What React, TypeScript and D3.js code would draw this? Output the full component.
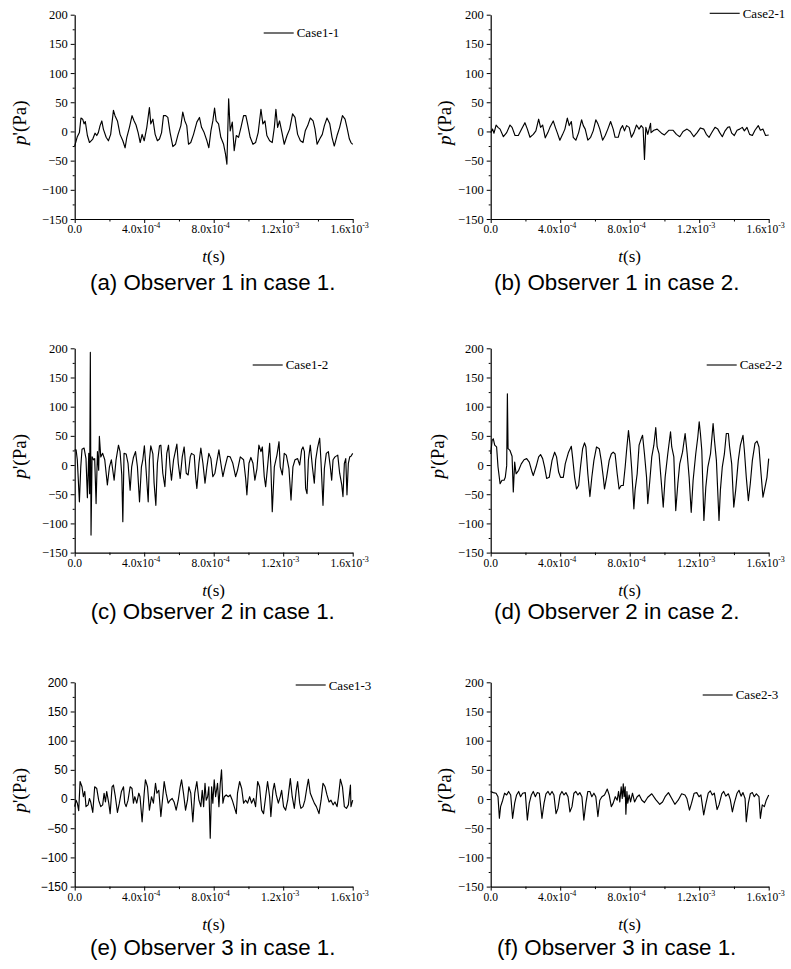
import React, { useEffect, useRef } from "react";
import * as d3 from "d3";

type Pt = [number, number]; // [t in 1e-4 s, p' in Pa]

const xTicks = [0, 4e-4, 8e-4, 1.2e-3, 1.6e-3];
const xMinor = [2e-4, 6e-4, 1e-3, 1.4e-3];
const xTickBase = ["0.0", "4.0x10", "8.0x10", "1.2x10", "1.6x10"];
const xTickExp = ["", "-4", "-4", "-3", "-3"];
const yTicks = [-150, -100, -50, 0, 50, 100, 150, 200];
const yMinor = [-125, -75, -25, 25, 75, 125, 175];

const case1_1: Pt[] = [
  [0, -25], [0.15, -9], [0.27, -2], [0.36, 23], [0.46, 21], [0.54, 13], [0.61, 17], [0.73, -7], [0.85, -19],
  [1.04, -13], [1.17, -3], [1.27, -7], [1.36, -2], [1.46, 10], [1.56, 18], [1.65, 4], [1.81, -10], [1.94, -16],
  [2.07, -5], [2.23, 36], [2.32, 27], [2.46, 18], [2.61, -5], [2.77, -16], [2.9, -28], [3.0, -10], [3.15, 7],
  [3.3, 27], [3.42, 18], [3.53, 11], [3.65, -2], [3.77, -19], [3.88, -5], [4.0, -16], [4.15, 7], [4.3, 41],
  [4.38, 13], [4.5, 21], [4.63, -5], [4.76, -16], [4.88, -13], [5.0, -2], [5.11, 27], [5.24, 27], [5.36, 24],
  [5.49, -2], [5.65, -26], [5.8, -22], [5.95, -5], [6.11, 10], [6.22, 33], [6.34, 18], [6.45, 10], [6.55, -22],
  [6.68, -19], [6.84, -5], [7.03, 16], [7.18, 24], [7.3, 7], [7.45, -2], [7.61, -16], [7.72, -28], [7.84, 1],
  [7.95, 18], [8.05, 40], [8.14, 18], [8.28, 13], [8.41, -10], [8.57, -22], [8.68, -39], [8.76, -56], [8.86, 56],
  [8.95, 1], [9.07, 16], [9.18, -33], [9.3, -7], [9.43, -10], [9.57, 7], [9.72, 27], [9.85, 27], [9.95, 13],
  [10.1, -10], [10.26, -22], [10.41, -19], [10.56, -2], [10.72, 38], [10.83, 13], [10.95, 18], [11.06, -7],
  [11.22, -16], [11.37, -19], [11.49, 7], [11.58, 38], [11.68, 7], [11.79, 18], [11.93, -2], [12.06, -22],
  [12.22, -7], [12.37, 4], [12.54, 30], [12.68, 24], [12.83, -5], [12.99, -16], [13.14, -19], [13.27, 1],
  [13.41, 10], [13.56, 23], [13.72, 18], [13.83, 4], [13.95, -22], [14.1, -13], [14.25, -5], [14.37, 10],
  [14.52, 23], [14.68, 13], [14.81, -10], [14.94, -25], [15.1, -7], [15.25, 7], [15.41, 27], [15.56, 21],
  [15.67, 7], [15.81, -13], [15.9, -19], [16.0, -22],
];

const case2_1: Pt[] = [
  [0, -2], [0.11, 4], [0.19, -3], [0.31, 11], [0.42, 7], [0.54, 4], [0.73, -9], [0.92, -2], [1.11, 11], [1.23, 7],
  [1.4, -7], [1.59, -7], [1.78, 4], [1.97, 15], [2.11, 4], [2.26, -10], [2.45, -5], [2.6, 1], [2.76, 21], [2.87, 7],
  [2.99, 11], [3.14, -11], [3.29, -2], [3.41, 7], [3.6, 18], [3.72, 7], [3.83, -2], [3.98, -15], [4.14, -5],
  [4.27, 4], [4.41, 23], [4.52, 10], [4.64, 17], [4.75, -10], [4.9, -15], [5.06, -2], [5.23, 20], [5.33, 10],
  [5.44, 4], [5.59, -15], [5.75, -10], [5.9, 1], [6.05, 20], [6.17, 13], [6.28, 4], [6.44, -15], [6.59, -7],
  [6.74, 4], [6.9, 17], [7.05, 4], [7.16, -10], [7.34, -10], [7.47, 4], [7.59, 10], [7.7, 1], [7.82, 10], [7.97, 7],
  [8.1, -10], [8.24, -2], [8.39, 11], [8.54, 4], [8.66, 10], [8.77, 6], [8.85, -48], [8.93, 7], [9.04, -5],
  [9.2, 14], [9.23, -2], [9.39, 2], [9.58, 4], [9.83, -3], [10.0, -6], [10.25, 2], [10.5, 2], [10.69, -5],
  [10.88, -9], [11.07, 0], [11.3, 4], [11.49, 0], [11.69, -9], [11.88, -2], [12.07, 6], [12.26, 4], [12.41, -5],
  [12.57, -10], [12.76, 0], [12.91, 7], [13.07, 4], [13.18, -2], [13.33, -9], [13.49, 1], [13.64, 7], [13.75, 8],
  [13.87, -3], [14.02, -7], [14.18, 2], [14.33, 4], [14.48, 7], [14.6, 1], [14.75, 7], [14.9, -5], [15.06, -7],
  [15.21, 2], [15.4, 10], [15.52, 2], [15.67, 4], [15.82, -7], [16.0, -6],
];

const case1_2: Pt[] = [
  [0, 26], [0.08, 26], [0.15, 9], [0.27, -63], [0.35, -3], [0.42, 27], [0.54, 29], [0.65, 11], [0.73, -56],
  [0.81, 20], [0.86, -49], [0.9, 193], [0.94, -120], [1.0, 14], [1.08, 9], [1.15, 11], [1.23, -66], [1.31, 23],
  [1.38, -9], [1.42, 49], [1.5, 14], [1.61, 20], [1.73, 9], [1.81, -14], [1.88, -34], [2.0, -3], [2.11, 9],
  [2.27, -26], [2.38, 9], [2.52, 34], [2.61, 23], [2.71, -17], [2.77, -97], [2.84, 20], [2.96, 19], [3.07, 3],
  [3.19, -43], [3.28, -3], [3.38, 13], [3.5, 23], [3.61, -3], [3.73, -63], [3.84, -3], [3.92, 9], [4.01, 33],
  [4.11, -9], [4.23, -63], [4.3, 9], [4.38, 33], [4.5, 19], [4.57, -31], [4.67, -69], [4.76, 3], [4.88, 33],
  [4.96, 34], [5.07, -14], [5.19, -37], [5.3, 20], [5.4, 34], [5.49, -3], [5.57, -26], [5.69, 9], [5.88, 36],
  [5.96, 3], [6.07, -23], [6.19, 14], [6.3, 31], [6.42, -14], [6.53, -17], [6.65, 14], [6.72, 20], [6.88, 17],
  [6.96, -20], [7.03, -40], [7.15, 3], [7.26, 29], [7.38, 3], [7.5, -31], [7.61, -3], [7.72, 20], [7.84, 11],
  [7.95, -20], [8.07, -14], [8.18, 6], [8.3, 26], [8.41, 3], [8.53, -20], [8.65, -3], [8.8, 15], [8.95, 14],
  [9.1, 3], [9.26, -20], [9.37, -9], [9.53, 14], [9.72, 9], [9.84, -23], [9.91, -51], [10.03, 3], [10.14, 13],
  [10.26, 3], [10.37, -26], [10.49, -6], [10.6, 34], [10.72, 23], [10.8, 31], [10.91, -20], [10.99, -37],
  [11.1, -3], [11.22, 37], [11.29, -3], [11.37, -80], [11.49, -3], [11.64, 17], [11.76, 40], [11.83, -3],
  [11.95, -17], [12.06, 20], [12.18, 17], [12.33, -6], [12.45, -60], [12.56, -3], [12.68, 9], [12.83, 11],
  [12.95, 0], [13.06, 26], [13.14, 31], [13.22, 23], [13.29, -40], [13.37, -49], [13.45, 9], [13.56, 34],
  [13.68, -3], [13.79, -31], [13.87, 9], [13.98, 30], [14.1, 46], [14.18, 3], [14.29, -69], [14.37, -6],
  [14.48, 20], [14.6, 23], [14.71, -3], [14.79, -26], [14.87, 9], [14.98, 14], [15.14, 17], [15.25, -14],
  [15.37, -34], [15.44, -54], [15.52, 3], [15.6, 11], [15.67, -51], [15.75, 3], [15.83, 14], [15.9, 15], [16.0, 20],
];

const case2_2: Pt[] = [
  [0, 19], [0.08, 42], [0.15, 45], [0.23, 34], [0.34, 31], [0.42, -3], [0.54, -32], [0.65, -26], [0.77, -26],
  [0.84, -21], [0.92, -1], [0.96, 122], [1.0, 28], [1.11, 25], [1.23, 15], [1.3, -46], [1.38, 5], [1.46, -15],
  [1.61, -9], [1.76, 2], [1.92, 9], [2.07, 11], [2.22, 5], [2.38, -12], [2.45, -18], [2.61, -3], [2.76, 14],
  [2.87, 18], [2.99, 11], [3.1, -3], [3.22, -23], [3.37, -21], [3.53, 8], [3.68, 22], [3.79, 14], [3.91, -12],
  [4.02, -21], [4.18, -21], [4.29, 2], [4.48, 22], [4.64, 32], [4.71, 14], [4.83, -21], [4.94, -41], [5.06, -35],
  [5.17, -3], [5.29, 28], [5.4, 38], [5.48, 31], [5.59, -15], [5.71, -54], [5.82, -21], [5.94, 8], [6.09, 31],
  [6.25, 28], [6.36, 8], [6.48, -21], [6.55, -41], [6.67, -21], [6.82, 8], [6.94, 19], [7.05, 22], [7.16, 19],
  [7.28, -15], [7.39, -41], [7.51, -35], [7.63, -35], [7.74, -3], [7.82, 25], [7.93, 59], [8.01, 37], [8.12, -9],
  [8.24, -75], [8.31, -43], [8.43, -15], [8.54, 34], [8.66, 45], [8.74, 51], [8.85, 19], [8.97, -21], [9.04, -66],
  [9.16, -26], [9.27, 14], [9.39, 34], [9.5, 64], [9.58, 31], [9.69, 19], [9.81, -26], [9.93, -72], [10.04, -21],
  [10.19, 19], [10.35, 57], [10.42, 31], [10.54, 14], [10.65, -78], [10.77, -32], [10.88, 2], [11.04, 22],
  [11.19, 54], [11.31, 19], [11.42, -21], [11.54, -81], [11.65, -26], [11.8, 19], [11.92, 48], [12.0, 74],
  [12.07, 54], [12.15, 25], [12.27, -95], [12.38, -38], [12.5, -3], [12.65, 19], [12.8, 71], [12.88, 42],
  [12.99, 8], [13.14, -95], [13.22, -43], [13.33, -3], [13.45, 19], [13.56, 54], [13.68, 54], [13.75, 31],
  [13.87, 2], [13.99, -72], [14.1, -43], [14.25, 8], [14.37, 34], [14.52, 51], [14.6, 25], [14.71, -21],
  [14.83, -61], [14.94, -32], [15.06, 8], [15.21, 37], [15.33, 41], [15.44, 31], [15.56, -15], [15.67, -55],
  [15.79, -38], [15.9, -21], [16.0, 11],
];

const case1_3: Pt[] = [
  [0, -13], [0.08, -2], [0.15, -7], [0.23, -20], [0.31, 30], [0.42, 21], [0.5, 4], [0.58, 13], [0.65, -13],
  [0.77, -10], [0.85, 1], [0.92, -5], [1.04, -23], [1.15, 21], [1.27, 18], [1.38, -2], [1.5, -13], [1.61, -10],
  [1.69, 10], [1.77, -5], [1.84, 13], [1.96, -7], [2.04, -25], [2.15, 21], [2.23, 24], [2.34, 4], [2.46, -23],
  [2.57, -7], [2.69, 13], [2.81, 21], [2.88, -7], [2.96, -13], [3.07, -2], [3.19, 21], [3.3, 18], [3.38, -7],
  [3.46, 4], [3.57, -7], [3.69, 10], [3.76, 4], [3.88, -39], [4.0, 10], [4.07, 33], [4.19, 21], [4.3, -19],
  [4.42, 4], [4.53, -7], [4.65, 27], [4.73, 10], [4.84, 15], [4.96, -30], [5.07, 4], [5.15, 30], [5.26, 10],
  [5.38, -7], [5.49, -2], [5.61, 1], [5.72, -5], [5.84, -19], [5.96, -2], [6.07, 21], [6.15, 33], [6.26, 10],
  [6.38, -19], [6.49, -2], [6.57, 21], [6.68, 10], [6.8, -39], [6.91, 10], [7.03, 30], [7.15, -2], [7.26, -13],
  [7.34, 15], [7.42, -13], [7.5, 27], [7.57, -2], [7.65, 4], [7.72, 21], [7.8, -67], [7.88, 21], [7.95, -7],
  [8.03, 33], [8.11, 4], [8.22, 27], [8.3, -13], [8.38, 27], [8.45, 50], [8.53, -7], [8.61, 4], [8.72, 7],
  [8.84, 4], [8.95, 7], [9.07, -2], [9.18, -13], [9.3, -25], [9.37, 10], [9.49, 30], [9.61, 18], [9.72, -7],
  [9.84, -2], [9.95, -7], [10.07, 4], [10.18, -7], [10.3, 1], [10.41, -13], [10.53, 30], [10.64, 21], [10.76, -19],
  [10.87, -25], [10.99, 4], [11.1, 30], [11.22, 4], [11.29, -30], [11.41, 15], [11.49, 27], [11.6, 7], [11.72, -7],
  [11.83, 4], [11.91, 15], [12.02, -13], [12.14, -19], [12.26, -2], [12.41, 35], [12.52, 4], [12.64, -16],
  [12.75, 15], [12.83, 30], [12.95, -7], [13.02, -16], [13.14, -13], [13.25, -2], [13.37, 21], [13.45, 34],
  [13.56, 10], [13.68, 1], [13.79, -7], [13.91, -13], [14.06, -25], [14.18, -2], [14.29, 27], [14.41, 21],
  [14.52, 7], [14.64, -5], [14.75, -2], [14.87, -10], [14.98, -5], [15.1, -13], [15.18, 4], [15.29, 34],
  [15.41, 21], [15.52, -13], [15.64, -16], [15.75, -10], [15.87, 24], [15.9, -13], [16.0, -2],
];

const case2_3: Pt[] = [
  [0, 13], [0.15, 11], [0.31, 10], [0.42, 4], [0.5, -33], [0.57, -13], [0.69, -2], [0.8, 10], [0.92, 7], [1.03, 13],
  [1.15, 7], [1.26, -33], [1.38, -7], [1.49, 7], [1.61, 13], [1.72, 4], [1.84, 10], [1.99, 11], [2.11, -36],
  [2.22, -7], [2.34, 7], [2.45, 13], [2.57, 4], [2.68, 11], [2.8, 10], [2.95, -33], [3.07, -7], [3.18, 9],
  [3.3, 13], [3.41, 7], [3.53, 13], [3.64, 7], [3.76, -25], [3.87, -16], [3.99, 7], [4.1, 13], [4.22, 7],
  [4.33, 11], [4.45, 4], [4.56, -22], [4.68, -13], [4.79, 10], [4.9, 13], [5.02, 7], [5.13, 11], [5.25, 4],
  [5.36, -36], [5.48, -7], [5.59, 13], [5.71, 13], [5.82, 4], [5.94, 10], [6.05, 4], [6.17, -30], [6.28, -2],
  [6.4, 4], [6.55, 7], [6.71, 17], [6.82, 7], [6.94, -13], [7.05, -7], [7.17, 4], [7.28, -2], [7.36, 13],
  [7.43, -5], [7.51, 21], [7.57, 1], [7.63, 26], [7.68, 4], [7.74, 21], [7.78, -26], [7.84, 13], [7.89, -7],
  [7.97, 7], [8.05, -5], [8.16, 10], [8.28, -5], [8.43, 4], [8.55, 7], [8.7, -2], [8.85, -6], [9.04, 3], [9.27, 9],
  [9.5, -1], [9.73, -9], [9.89, -5], [10.04, 4], [10.23, 11], [10.42, 1], [10.6, -9], [10.79, -2], [10.99, 9],
  [11.18, 7], [11.29, 1], [11.44, -19], [11.56, -7], [11.71, 10], [11.86, 11], [11.99, 4], [12.1, 7], [12.26, -27],
  [12.37, -10], [12.52, 10], [12.64, 14], [12.75, 7], [12.87, 10], [13.03, -18], [13.14, -10], [13.3, 9],
  [13.41, 13], [13.53, 5], [13.68, 9], [13.79, -1], [13.91, -22], [14.02, -7], [14.18, 10], [14.29, 15],
  [14.41, 5], [14.52, 11], [14.64, 1], [14.71, -39], [14.83, -7], [14.94, 9], [15.06, 11], [15.17, 4], [15.29, 9],
  [15.44, 4], [15.52, -33], [15.63, -10], [15.75, -13], [15.86, -2], [16.0, 7],
];

const panelNames = ["Case1-1", "Case2-1", "Case1-2", "Case2-2", "Case1-3", "Case2-3"];
const captions = [
  "(a) Observer 1 in case 1.",
  "(b) Observer 1 in case 2.",
  "(c) Observer 2 in case 1.",
  "(d) Observer 2 in case 2.",
  "(e) Observer 3 in case 1.",
  "(f) Observer 3 in case 1.",
];
const series = [case1_1, case2_1, case1_2, case2_2, case1_3, case2_3];

// layout (px)
const colLeft = [74.7, 490.7];
const rowTop = [14.7, 348.3, 682.3];
const plotW = 278;
const plotH = 204.3;
const legendPos: [number, number][] = [[-89, 18.3], [-59, -1.4], [-100, 16.7], [-62, 16.7], [-57, 2.7], [-66, 12.7]];
const yTitleDx = [-55, -46, -55, -53, -55, -46];
const captionDy = [71, 71, 66, 66, 68, 68];

const SERIF = "'Liberation Serif', 'Times New Roman', serif";
const SANS = "'Liberation Sans', Arial, sans-serif";

function drawPanel(svg: d3.Selection<SVGSVGElement, unknown, null, undefined>, i: number) {
  const col = i % 2;
  const row = Math.floor(i / 2);
  const g = svg.append("g").attr("transform", `translate(${colLeft[col]},${rowTop[row]})`);

  const x = d3.scaleLinear().domain([0, 1.6e-3]).range([0, plotW]);
  const y = d3.scaleLinear().domain([-150, 200]).range([plotH, 0]);

  // y axis (panel e uses a sans face for its numbers)
  const yAxis = g.append("g").call(
    d3.axisLeft(y).tickValues(yTicks).tickSize(4).tickSizeOuter(0).tickPadding(3).tickFormat(d3.format("d"))
  );
  yAxis.selectAll("text")
    .style("font-family", i === 4 ? SANS : SERIF)
    .style("font-size", i === 4 ? "12px" : "12.5px")
    .attr("fill", "#000");
  yAxis.select(".domain").attr("stroke-width", 1.2);
  yAxis.selectAll("line").attr("stroke-width", 1);
  g.append("g").call(d3.axisLeft(y).tickValues(yMinor).tickSize(2).tickSizeOuter(0).tickFormat(() => ""))
    .call(s => s.select(".domain").remove());

  // x axis
  const xAxis = g.append("g").attr("transform", `translate(0,${plotH})`).call(
    d3.axisBottom(x).tickValues(xTicks).tickSize(4).tickSizeOuter(0).tickFormat(() => "")
  );
  xAxis.select(".domain").attr("stroke-width", 1.2);
  xAxis.selectAll("line").attr("stroke-width", 1);
  g.append("g").attr("transform", `translate(0,${plotH})`)
    .call(d3.axisBottom(x).tickValues(xMinor).tickSize(2.5).tickSizeOuter(0).tickFormat(() => ""))
    .call(s => s.select(".domain").remove());

  const labels = g.append("g");
  xTicks.forEach((t, k) => {
    const txt = labels.append("text")
      .attr("x", x(t) - (k === 0 ? 0 : 3))
      .attr("y", plotH + 14)
      .attr("text-anchor", "middle")
      .style("font-family", SERIF)
      .style("font-size", "11.5px");
    txt.append("tspan").text(xTickBase[k]);
    if (xTickExp[k]) {
      txt.append("tspan").style("font-size", "8px").attr("dy", -5).text(xTickExp[k]);
    }
  });

  // data line
  const line = d3.line<Pt>().x(d => x(d[0] * 1e-4)).y(d => y(d[1]));
  g.append("path")
    .datum(series[i])
    .attr("d", line)
    .attr("fill", "none")
    .attr("stroke", "#000")
    .attr("stroke-width", 1.15)
    .attr("stroke-linejoin", "round");

  // legend
  const [lx, ly] = legendPos[i];
  g.append("line")
    .attr("x1", plotW + lx).attr("x2", plotW + lx + 30)
    .attr("y1", ly).attr("y2", ly)
    .attr("stroke", "#000").attr("stroke-width", 1.1);
  g.append("text")
    .attr("x", plotW + lx + 33).attr("y", ly + 4.5)
    .style("font-family", SERIF).style("font-size", "13px")
    .text(panelNames[i]);

  // y title
  const yt = g.append("text")
    .attr("transform", `translate(${yTitleDx[i]},108) rotate(-90)`)
    .attr("text-anchor", "middle")
    .attr("dy", "0.35em")
    .style("font-family", SERIF).style("font-size", "19px");
  yt.append("tspan").style("font-style", "italic").text("p");
  yt.append("tspan").text("'(Pa)");

  // x title
  const xt = g.append("text")
    .attr("x", plotW / 2).attr("y", plotH + 43)
    .attr("text-anchor", "middle")
    .style("font-family", SERIF).style("font-size", "17px");
  xt.append("tspan").style("font-style", "italic").text("t");
  xt.append("tspan").text("(s)");

  // caption
  g.append("text")
    .attr("x", plotW / 2 + (col === 0 ? -1 : -13)).attr("y", plotH + captionDy[i])
    .attr("text-anchor", "middle")
    .style("font-family", SANS).style("font-size", "22.3px")
    .text(captions[i]);
}

export default function App() {
  const ref = useRef<SVGSVGElement | null>(null);

  useEffect(() => {
    document.body.style.margin = "0";
    const svg = d3.select(ref.current as SVGSVGElement);
    svg.selectAll("*").remove();
    for (let i = 0; i < 6; i++) drawPanel(svg, i);
  }, []);

  return (
    <svg ref={ref} width={791} height={969} style={{ display: "block", background: "#fff" }} />
  );
}
